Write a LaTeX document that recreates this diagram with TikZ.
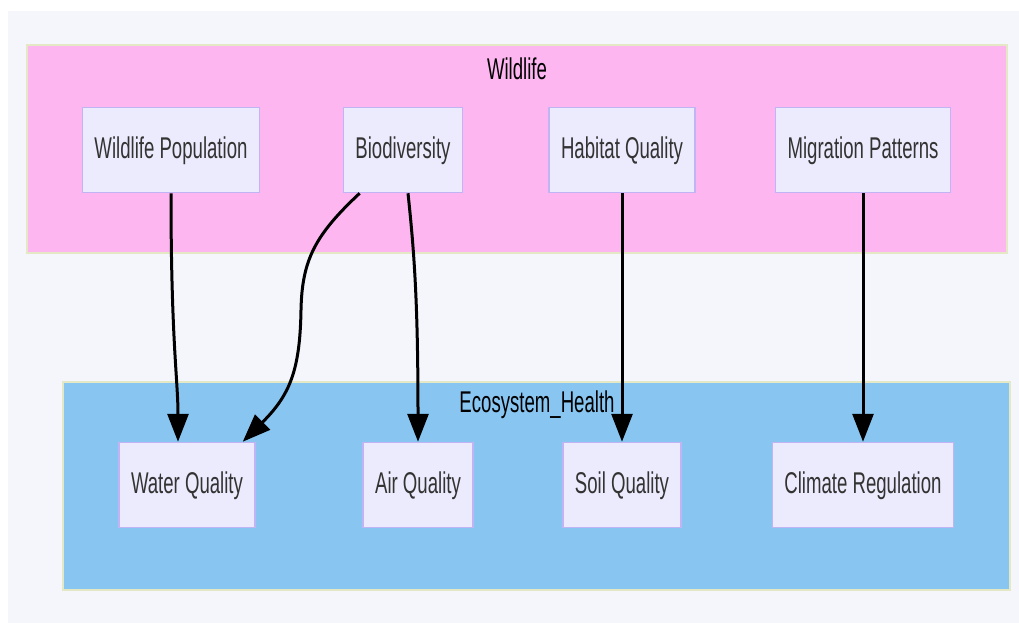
\documentclass[tikz,border=0pt]{standalone}
\usepackage{fontspec}
\setmainfont{Liberation Sans}[FakeStretch=0.62]
\usetikzlibrary{arrows.meta}

\definecolor{pagebg}{HTML}{F4F6FC}
\definecolor{wildpink}{HTML}{FEB6F1}
\definecolor{ecoblue}{HTML}{88C6F1}
\definecolor{clusterline}{HTML}{E4E8C4}
\definecolor{boxfill}{HTML}{ECEBFD}
\definecolor{boxline}{HTML}{C0B4F4}
\definecolor{labeltext}{HTML}{333333}

\tikzstyle{myflowstyle}=[
    x=1pt, y=-1pt,
    >={Triangle[length=28pt,width=21pt]},
    font=\fontsize{30pt}{36pt}\selectfont,
]
\tikzstyle{cluster}=[draw=clusterline, line width=1.5pt]
\tikzstyle{box}=[
    draw=boxline, fill=boxfill,
    line width=1.5pt,
    minimum height=85pt,
    inner xsep=12pt,
    text height=21pt, text depth=4pt,
    text=labeltext,
]
\tikzstyle{link}=[->, line width=3pt, black]

\begin{document}
\begin{tikzpicture}[myflowstyle]
        \useasboundingbox (0,0) rectangle (1019,623);
        \fill[pagebg] (8,11) rectangle (1019,623);

        % the two groups
        \filldraw[cluster, fill=wildpink] (27,45) rectangle (1007,253);
        \filldraw[cluster, fill=ecoblue] (63,382) rectangle (1010,590);
        \node (wildlife) at (517,69) {Wildlife};
        \node (ecohealth) at (537,405) {Ecosystem\_Health};

        \node[box] (population) at (171,150) {Wildlife Population};
        \node[box] (biodiversity) at (403,150) {Biodiversity};
        \node[box] (habitat) at (622,150) {Habitat Quality};
        \node[box] (migration) at (863,150) {Migration Patterns};

        \node[box] (water) at (187,485) {Water Quality};
        \node[box] (air) at (418,485) {Air Quality};
        \node[box] (soil) at (622,485) {Soil Quality};
        \node[box] (climate) at (863,485) {Climate Regulation};

        \draw[link] (population.south) .. controls (171,340) and (178,380) .. ([xshift=-9pt]water.north);
        \draw[link] ([xshift=17pt]biodiversity.south west) .. controls (315,235) and (302,260) .. (301,310)
            .. controls (300,370) and (290,395) .. ([xshift=-13pt]water.north east);
        \draw[link] ([xshift=5pt]biodiversity.south) .. controls (414,250) and (418,300) .. (air.north);
        \draw[link] (habitat.south) -- (soil.north);
        \draw[link] (migration.south) -- (climate.north);
    \end{tikzpicture}
\end{document}
